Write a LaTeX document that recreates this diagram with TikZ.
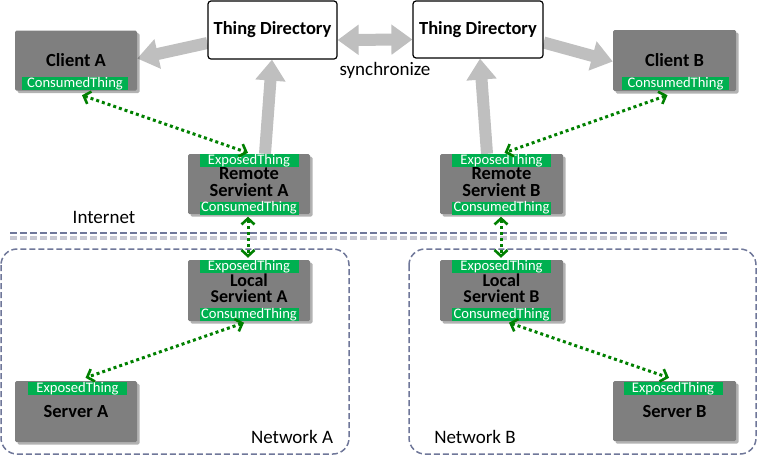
\documentclass[tikz,border=0pt]{standalone}
\usepackage{fontspec}
\setmainfont{Carlito}
\usetikzlibrary{arrows.meta,shadows}
\pgfdeclarelayer{background}
\pgfsetlayers{background,main}
\definecolor{boxgray}{HTML}{7F7F7F}
\definecolor{taggreen}{HTML}{00B050}
\definecolor{arrowgray}{HTML}{BFBFBF}
\definecolor{dotgreen}{HTML}{008000}
\definecolor{netblue}{HTML}{6F7799}
\definecolor{netshadow}{HTML}{C8C8D2}
\tikzset{
  devbox/.style={fill=boxgray, rounded corners=1.5pt, inner sep=0pt, align=center,
    font=\fontsize{18.5}{17}\selectfont\bfseries, text=black,
    drop shadow={shadow xshift=2.5pt, shadow yshift=-2.5pt, opacity=0.3, fill=black}},
  twoline/.style={text depth=3.5pt},
  localbox/.style={text depth=4.2pt, font=\fontsize{18}{16.4}\selectfont\bfseries},
  dirbox/.style={fill=white, draw=black, line width=1.2pt, rounded corners=3pt, inner sep=0pt,
    font=\fontsize{18.5}{17}\selectfont\bfseries},
  tag/.style={fill=taggreen, text=white, inner sep=0pt, minimum width=99pt, minimum height=13pt,
    text height=9.5pt, text depth=2.5pt, font=\fontsize{14.6}{15}\selectfont},
  bigarrow/.style={draw=arrowgray, line width=12pt, -{Triangle[length=21pt,width=29pt]}},
  bigdouble/.style={draw=arrowgray, line width=12pt, {Triangle[length=21pt,width=29pt]}-{Triangle[length=21pt,width=29pt]}},
  link/.style={draw=dotgreen, line width=3pt, dash pattern=on 3pt off 3pt,
    {Straight Barb[length=6pt,width=13pt,line width=2.6pt]}-{Straight Barb[length=6pt,width=13pt,line width=2.6pt]}},
  netline/.style={draw=netblue, line width=2.8pt, dash pattern=on 7pt off 3pt},
  netshade/.style={draw=netshadow, line width=3.5pt, dash pattern=on 7pt off 3pt},
  netbox/.style={draw=netblue, line width=1.5pt, dash pattern=on 6pt off 3pt, rounded corners=16pt},
  plain/.style={font=\fontsize{19}{20}\selectfont, inner sep=0pt},
}
\begin{document}
\begin{tikzpicture}[x=1pt,y=-1pt]
\useasboundingbox (0,0) rectangle (757,456);
% network regions
\draw[netbox] (1,249) rectangle (349,454);
\draw[netbox] (409,249) rectangle (756,454);
% internet line
\coordinate (inL) at (10,233);
\coordinate (inR) at (729,233);
\draw[netshade] ([yshift=-5pt]inL) -- ([yshift=-5pt]inR);
\draw[netline] (inL) -- (inR);
\node[plain] (internet) at (104,217) {Internet};
\node[plain] (netA) at (292,437) {Network A};
\node[plain] (netB) at (475,437) {Network B};
\node[plain] (sync) at (385,70) {synchronize};
% directories
\node[dirbox, minimum width=129pt, minimum height=58pt] (tdA) at (272.5,30) {Thing Directory};
\node[dirbox, minimum width=130pt, minimum height=57pt] (tdB) at (478,29.5) {Thing Directory};
% devices
\node[devbox, minimum width=122pt, minimum height=60pt] (cA) at (76,60.5) {Client A};
\node[devbox, minimum width=123pt, minimum height=61pt] (cB) at (674.5,60.5) {Client B};
\node[devbox, twoline, minimum width=122pt, minimum height=60pt] (rA) at (249,184) {Remote\\Servient A};
\node[devbox, twoline, minimum width=123pt, minimum height=60pt] (rB) at (501.5,184) {Remote\\Servient B};
\node[devbox, localbox, minimum width=122pt, minimum height=61pt] (lA) at (249,290.5) {Local\\Servient A};
\node[devbox, localbox, minimum width=123pt, minimum height=61pt] (lB) at (501.5,290.5) {Local\\Servient B};
\node[devbox, minimum width=122pt, minimum height=61pt] (sA) at (76,411.5) {Server A};
\node[devbox, minimum width=123pt, minimum height=60pt] (sB) at (674.5,411) {Server B};
% tags
\node[tag, minimum width=106pt] (cAc) at (75,83.5) {ConsumedThing};
\node[tag, minimum width=107pt] (cBc) at (675.5,83.5) {ConsumedThing};
\node[tag] (rAe) at (249,160.5) {ExposedThing};
\node[tag] (rAc) at (249,208) {ConsumedThing};
\node[tag] (rBe) at (501.5,160.5) {ExposedThing};
\node[tag] (rBc) at (501.5,208) {ConsumedThing};
\node[tag] (lAe) at (249,266.5) {ExposedThing};
\node[tag] (lAc) at (249,314.5) {ConsumedThing};
\node[tag] (lBe) at (501.5,266.5) {ExposedThing};
\node[tag] (lBc) at (501.5,314.5) {ConsumedThing};
\node[tag] (sAe) at (77.5,388.5) {ExposedThing};
\node[tag] (sBe) at (673,388.5) {ExposedThing};
% gray arrows
\begin{pgfonlayer}{background}
\draw[bigarrow] ([yshift=-13pt]tdA.west) -- ([yshift=2pt]cA.east);
\draw[bigarrow] ([yshift=-13pt]tdB.east) -- ([yshift=-1pt]cB.west);
\draw[bigdouble] ([yshift=-10pt]tdA.east) -- ([yshift=-10pt]tdB.west);
\draw[bigarrow] ([xshift=16pt]rA.north) -- ([xshift=-0.5pt]tdA.south);
\draw[bigarrow] ([xshift=-14.5pt]rB.north) -- ([xshift=2pt]tdB.south);
\end{pgfonlayer}
% green links
\draw[link] ([xshift=7pt,yshift=-5pt]cAc.south) -- ([xshift=-1pt,yshift=1pt]rAe.north);
\draw[link] ([xshift=-8pt,yshift=-5pt]cBc.south) -- ([xshift=3pt,yshift=1pt]rBe.north);
\draw[link] ([xshift=-1pt,yshift=-2pt]rAc.south) -- ([xshift=-1pt,yshift=2pt]lAe.north);
\draw[link] ([xshift=-0.5pt,yshift=-2pt]rBc.south) -- ([xshift=-0.5pt,yshift=2pt]lBe.north);
\draw[link] ([xshift=-5pt,yshift=-1.5pt]lAc.south) -- ([xshift=8pt,yshift=4pt]sAe.north);
\draw[link] ([xshift=7.5pt,yshift=-1.5pt]lBc.south) -- ([xshift=-4pt,yshift=4pt]sBe.north);
\end{tikzpicture}
\end{document}
